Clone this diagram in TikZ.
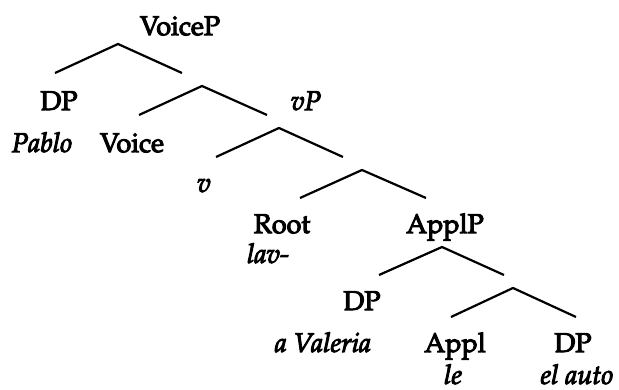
\documentclass[tikz,border=0pt]{standalone}
\usepackage[T1]{fontenc}
\usepackage{mathpazo}
\newcommand{\heavy}[1]{\special{pdf:literal direct 2 Tr 1.0 w}#1\special{pdf:literal direct 0 Tr}}
\begin{document}
\begin{tikzpicture}[x=1pt,y=1pt,
  lab/.style={anchor=base,inner sep=0pt,font=\fontsize{27}{30}\selectfont},
  ilab/.style={lab,font=\fontsize{27}{30}\selectfont\itshape},
  branch/.style={line width=2.2pt,line join=miter}]
\useasboundingbox (0,0) rectangle (619,390);
% labels
\node[lab]  (voicep) at (180,355) {\heavy{VoiceP}};
\node[lab]  (dp1)    at (59,280)  {\heavy{DP}};
\node[ilab] (pablo)  at (42,238)  {\heavy{Pablo}};
\node[lab]  (voice)  at (132,238) {\heavy{Voice}};
\node[ilab] (vp)     at (306,280) {\heavy{vP}};
\node[ilab] (v)      at (204,198) {\heavy{v}};
\node[lab]  (root)   at (282,157) {\heavy{Root}};
\node[ilab] (lav)    at (268,127) {\heavy{lav-}};
\node[lab]  (applp)  at (445,157) {\heavy{ApplP}};
\node[lab]  (dp2)    at (362,80)  {\heavy{DP}};
\node[ilab] (aval)   at (323,38)  {\heavy{a Valeria}};
\node[lab]  (appl)   at (455,38)  {\heavy{Appl}};
\node[ilab] (le)     at (453,6)   {\heavy{le}};
\node[lab]  (dp3)    at (573,38)  {\heavy{DP}};
\node[ilab] (elauto) at (577,6)   {\heavy{el auto}};
% branch coordinates
\coordinate (a1) at (118,346); \coordinate (l1) at (55,317);  \coordinate (r1) at (182,317);
\coordinate (a2) at (202,304); \coordinate (l2) at (139,275); \coordinate (r2) at (267,275);
\coordinate (a3) at (279,262); \coordinate (l3) at (216,233); \coordinate (r3) at (343,233);
\coordinate (a4) at (362,220); \coordinate (l4) at (300,192); \coordinate (r4) at (426,192);
\coordinate (a5) at (442,143); \coordinate (l5) at (379,115); \coordinate (r5) at (504,115);
\coordinate (a6) at (513,102); \coordinate (l6) at (451,73);  \coordinate (r6) at (576,73);
\draw[branch] (l1) -- (a1) -- (r1);
\draw[branch] (l2) -- (a2) -- (r2);
\draw[branch] (l3) -- (a3) -- (r3);
\draw[branch] (l4) -- (a4) -- (r4);
\draw[branch] (l5) -- (a5) -- (r5);
\draw[branch] (l6) -- (a6) -- (r6);
\end{tikzpicture}
\end{document}
